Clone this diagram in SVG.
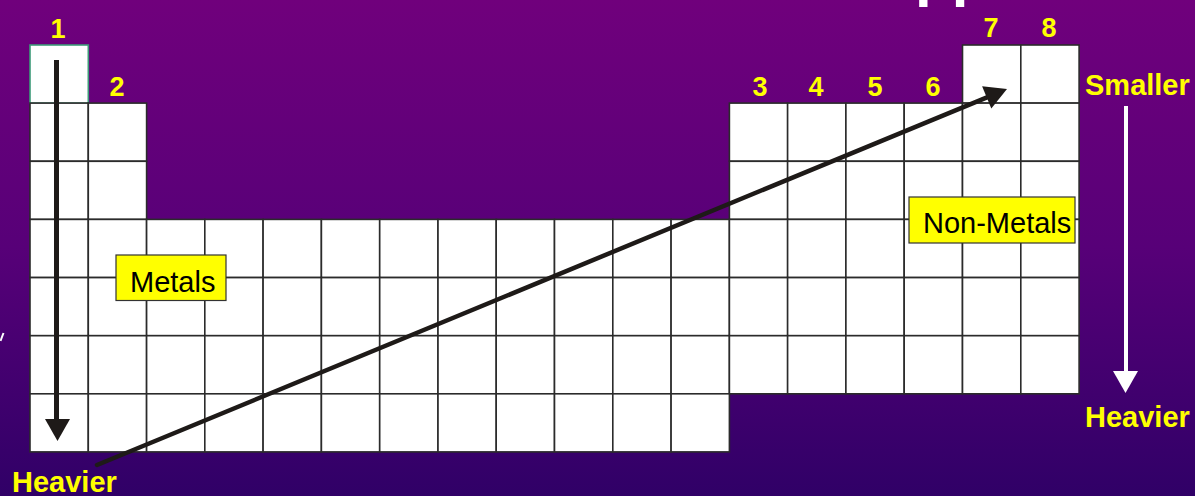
<svg xmlns="http://www.w3.org/2000/svg" width="1195" height="496" viewBox="0 0 1195 496">
<defs>
<linearGradient id="bg" x1="0" y1="0" x2="0" y2="1">
<stop offset="0" stop-color="#70007C"/>
<stop offset="0.5" stop-color="#570078"/>
<stop offset="1" stop-color="#300067"/>
</linearGradient>
<style>
.c{fill:#ffffff;stroke:#2b2b2b;stroke-width:1.6}
.lbl{font-family:"Liberation Sans",Arial,sans-serif;font-weight:bold;font-size:29px;fill:#FFFF00}
.num{font-family:"Liberation Sans",Arial,sans-serif;font-weight:bold;font-size:27px;fill:#FFFF00;text-anchor:middle}
.box{fill:#FFFF00;stroke:#333;stroke-width:1.2}
.bt{font-family:"Liberation Sans",Arial,sans-serif;font-size:29px;fill:#000}
</style>
</defs>
<rect width="1195" height="496" fill="url(#bg)"/>
<text x="915" y="-4.6" font-family="Liberation Sans,Arial,sans-serif" font-weight="bold" font-size="60" fill="#fff">pp</text>
<line x1="0.5" y1="341" x2="3.5" y2="333" stroke="#fff" stroke-width="2"/>

<g id="table">
<rect class="c" x="30" y="45" width="58.3" height="58.1" style="stroke:#3C9A78"/>
<rect class="c" x="962.5" y="45" width="58.3" height="58.1"/>
<rect class="c" x="1020.8" y="45" width="58.3" height="58.1"/>
<rect class="c" x="30" y="103.1" width="58.3" height="58.1"/>
<rect class="c" x="88.3" y="103.1" width="58.3" height="58.1"/>
<rect class="c" x="729.4" y="103.1" width="58.3" height="58.1"/>
<rect class="c" x="787.6" y="103.1" width="58.3" height="58.1"/>
<rect class="c" x="845.9" y="103.1" width="58.3" height="58.1"/>
<rect class="c" x="904.2" y="103.1" width="58.3" height="58.1"/>
<rect class="c" x="962.5" y="103.1" width="58.3" height="58.1"/>
<rect class="c" x="1020.8" y="103.1" width="58.3" height="58.1"/>
<rect class="c" x="30" y="161.3" width="58.3" height="58.1"/>
<rect class="c" x="88.3" y="161.3" width="58.3" height="58.1"/>
<rect class="c" x="729.4" y="161.3" width="58.3" height="58.1"/>
<rect class="c" x="787.6" y="161.3" width="58.3" height="58.1"/>
<rect class="c" x="845.9" y="161.3" width="58.3" height="58.1"/>
<rect class="c" x="904.2" y="161.3" width="58.3" height="58.1"/>
<rect class="c" x="962.5" y="161.3" width="58.3" height="58.1"/>
<rect class="c" x="1020.8" y="161.3" width="58.3" height="58.1"/>
<rect class="c" x="30" y="219.4" width="58.3" height="58.1"/>
<rect class="c" x="88.3" y="219.4" width="58.3" height="58.1"/>
<rect class="c" x="146.6" y="219.4" width="58.3" height="58.1"/>
<rect class="c" x="204.8" y="219.4" width="58.3" height="58.1"/>
<rect class="c" x="263.1" y="219.4" width="58.3" height="58.1"/>
<rect class="c" x="321.4" y="219.4" width="58.3" height="58.1"/>
<rect class="c" x="379.7" y="219.4" width="58.3" height="58.1"/>
<rect class="c" x="438" y="219.4" width="58.3" height="58.1"/>
<rect class="c" x="496.2" y="219.4" width="58.3" height="58.1"/>
<rect class="c" x="554.5" y="219.4" width="58.3" height="58.1"/>
<rect class="c" x="612.8" y="219.4" width="58.3" height="58.1"/>
<rect class="c" x="671.1" y="219.4" width="58.3" height="58.1"/>
<rect class="c" x="729.4" y="219.4" width="58.3" height="58.1"/>
<rect class="c" x="787.6" y="219.4" width="58.3" height="58.1"/>
<rect class="c" x="845.9" y="219.4" width="58.3" height="58.1"/>
<rect class="c" x="904.2" y="219.4" width="58.3" height="58.1"/>
<rect class="c" x="962.5" y="219.4" width="58.3" height="58.1"/>
<rect class="c" x="1020.8" y="219.4" width="58.3" height="58.1"/>
<rect class="c" x="30" y="277.6" width="58.3" height="58.1"/>
<rect class="c" x="88.3" y="277.6" width="58.3" height="58.1"/>
<rect class="c" x="146.6" y="277.6" width="58.3" height="58.1"/>
<rect class="c" x="204.8" y="277.6" width="58.3" height="58.1"/>
<rect class="c" x="263.1" y="277.6" width="58.3" height="58.1"/>
<rect class="c" x="321.4" y="277.6" width="58.3" height="58.1"/>
<rect class="c" x="379.7" y="277.6" width="58.3" height="58.1"/>
<rect class="c" x="438" y="277.6" width="58.3" height="58.1"/>
<rect class="c" x="496.2" y="277.6" width="58.3" height="58.1"/>
<rect class="c" x="554.5" y="277.6" width="58.3" height="58.1"/>
<rect class="c" x="612.8" y="277.6" width="58.3" height="58.1"/>
<rect class="c" x="671.1" y="277.6" width="58.3" height="58.1"/>
<rect class="c" x="729.4" y="277.6" width="58.3" height="58.1"/>
<rect class="c" x="787.6" y="277.6" width="58.3" height="58.1"/>
<rect class="c" x="845.9" y="277.6" width="58.3" height="58.1"/>
<rect class="c" x="904.2" y="277.6" width="58.3" height="58.1"/>
<rect class="c" x="962.5" y="277.6" width="58.3" height="58.1"/>
<rect class="c" x="1020.8" y="277.6" width="58.3" height="58.1"/>
<rect class="c" x="30" y="335.7" width="58.3" height="58.1"/>
<rect class="c" x="88.3" y="335.7" width="58.3" height="58.1"/>
<rect class="c" x="146.6" y="335.7" width="58.3" height="58.1"/>
<rect class="c" x="204.8" y="335.7" width="58.3" height="58.1"/>
<rect class="c" x="263.1" y="335.7" width="58.3" height="58.1"/>
<rect class="c" x="321.4" y="335.7" width="58.3" height="58.1"/>
<rect class="c" x="379.7" y="335.7" width="58.3" height="58.1"/>
<rect class="c" x="438" y="335.7" width="58.3" height="58.1"/>
<rect class="c" x="496.2" y="335.7" width="58.3" height="58.1"/>
<rect class="c" x="554.5" y="335.7" width="58.3" height="58.1"/>
<rect class="c" x="612.8" y="335.7" width="58.3" height="58.1"/>
<rect class="c" x="671.1" y="335.7" width="58.3" height="58.1"/>
<rect class="c" x="729.4" y="335.7" width="58.3" height="58.1"/>
<rect class="c" x="787.6" y="335.7" width="58.3" height="58.1"/>
<rect class="c" x="845.9" y="335.7" width="58.3" height="58.1"/>
<rect class="c" x="904.2" y="335.7" width="58.3" height="58.1"/>
<rect class="c" x="962.5" y="335.7" width="58.3" height="58.1"/>
<rect class="c" x="1020.8" y="335.7" width="58.3" height="58.1"/>
<rect class="c" x="30" y="393.8" width="58.3" height="58.1"/>
<rect class="c" x="88.3" y="393.8" width="58.3" height="58.1"/>
<rect class="c" x="146.6" y="393.8" width="58.3" height="58.1"/>
<rect class="c" x="204.8" y="393.8" width="58.3" height="58.1"/>
<rect class="c" x="263.1" y="393.8" width="58.3" height="58.1"/>
<rect class="c" x="321.4" y="393.8" width="58.3" height="58.1"/>
<rect class="c" x="379.7" y="393.8" width="58.3" height="58.1"/>
<rect class="c" x="438" y="393.8" width="58.3" height="58.1"/>
<rect class="c" x="496.2" y="393.8" width="58.3" height="58.1"/>
<rect class="c" x="554.5" y="393.8" width="58.3" height="58.1"/>
<rect class="c" x="612.8" y="393.8" width="58.3" height="58.1"/>
<rect class="c" x="671.1" y="393.8" width="58.3" height="58.1"/>
</g>

<g id="group-numbers">
<text class="num" x="58" y="38">1</text>
<text class="num" x="117" y="96">2</text>
<text class="num" x="760" y="96">3</text>
<text class="num" x="816" y="96">4</text>
<text class="num" x="875" y="96">5</text>
<text class="num" x="933" y="96">6</text>
<text class="num" x="991" y="37">7</text>
<text class="num" x="1049" y="37">8</text>
</g>

<g id="connectors">
<line x1="56.5" y1="60" x2="56.5" y2="421" stroke="#1E1A18" stroke-width="5"/>
<polygon points="45,419 70,419 57.5,441" fill="#1E1A18"/>
<line x1="97" y1="465" x2="987" y2="97.3" stroke="#1E1A18" stroke-width="4.5" stroke-linecap="round"/>
<polygon points="1007,89 982.1,86.3 991.3,108.5" fill="#1E1A18"/>
<line x1="1126" y1="106" x2="1126" y2="373" stroke="#ffffff" stroke-width="4"/>
<polygon points="1113,371 1138,371 1125.5,393" fill="#ffffff"/>
</g>

<g id="metals">
<rect class="box" x="116" y="255" width="110" height="45.5"/>
<text class="bt" x="130" y="291.5">Metals</text>
</g>
<g id="non-metals">
<rect class="box" x="909" y="197" width="166" height="46"/>
<text class="bt" x="923" y="233">Non-Metals</text>
</g>

<g id="smaller-label"><text class="lbl" x="1085" y="95">Smaller</text></g>
<g id="heavier-right"><text class="lbl" x="1085" y="427">Heavier</text></g>
<g id="heavier-left"><text class="lbl" x="12" y="492">Heavier</text></g>
</svg>
